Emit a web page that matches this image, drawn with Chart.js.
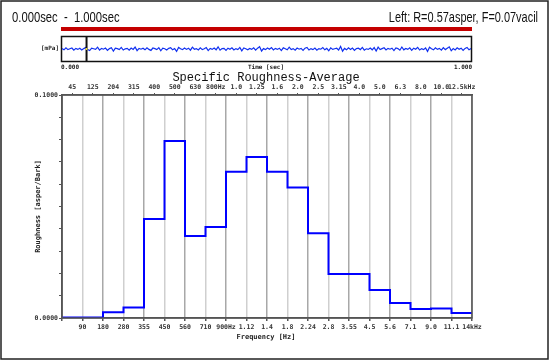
<!DOCTYPE html>
<html>
<head>
<meta charset="utf-8">
<script src="https://cdn.jsdelivr.net/npm/chart.js@4"></script>
<style>
  body { margin: 0; background: #fff; }
  #wrap { position: relative; width: 550px; height: 361px; }
  #main { position: absolute; left: 0; top: 0; }
  #wave { position: absolute; left: 62px; top: 37px; }
</style>
</head>
<body>
<div id="wrap">
  <canvas id="main" width="550" height="361"></canvas>
  <canvas id="wave" width="409" height="24"></canvas>
</div>
<script>
// Bark band centre frequencies (top axis)
const topLabels = ['45', '125', '204', '315', '400', '500', '630', '800Hz', '1.0', '1.25',
  '1.6', '2.0', '2.5', '3.15', '4.0', '5.0', '6.3', '8.0', '10.0', '12.5kHz'];
// band edges (bottom axis)
const bottomLabels = ['90', '180', '280', '355', '450', '560', '710', '900Hz', '1.12', '1.4',
  '1.8', '2.24', '2.8', '3.55', '4.5', '5.6', '7.1', '9.0', '11.1', '14kHz'];
// specific roughness per band [asper/Bark]
const roughness = [0.0002, 0.0002, 0.0026, 0.0047, 0.0444, 0.0794, 0.0368, 0.0408, 0.0656, 0.0722,
  0.0656, 0.0585, 0.0380, 0.0197, 0.0197, 0.0126, 0.0067, 0.0040, 0.0043, 0.0022];
const yTicksShown = [0, 0.1];

// time signal overview [mPa]
const waveform = [0.2, -0.4, 0.6, -0.3, 0.1, 0.5, -0.6, 0.3, -0.2, 0.4, -0.5, 0.2, 0.7, -0.3, -0.8, 0.4,
  0.1, -0.2, 0.9, -0.6, 0.3, -0.1, 0.5, -0.7, 0.2, 0.6, -1.1, 0.4, 0.2, -0.3, 0.8, -0.5,
  0.1, 0.3, -0.6, 0.5, -0.2, 1.0, -0.8, 0.3, -0.1, 0.4, -0.4, 0.6, -0.2, -0.7, 0.5, 0.2,
  -0.3, 0.7, -0.9, 0.4, 0.1, -0.5, 0.3, 0.6, -0.4, 0.2, -1.2, 0.8, 0.1, -0.3, 0.5, -0.2,
  0.4, -0.6, 0.9, -0.1, 0.2, -0.5, 0.6, -0.3, 0.1, 0.7, -0.8, 0.3, -0.2, 0.5, -0.4, 1.1,
  -0.6, 0.2, 0.3, -0.7, 0.4, -0.1, 0.6, -0.5, 0.2, -0.3, 0.8, -0.9, 0.5, 0.1, -0.4, 0.3,
  -0.2, 0.6, -0.6, 0.4, 1.2, -1.0, 0.2, -0.3, 0.5, -0.1, 0.7, -0.5, 0.3, -0.2, 0.4, -0.8,
  0.6, 0.1, -0.4, 0.9, -0.3, 0.2, -0.6, 0.5, -0.1, 0.3, -0.7, 0.4, 0.8, -0.5, 0.2, -0.3,
  0.5, -0.6, 0.2, -0.1, 0.7, -0.4, 0.3, -0.9, 0.6, -0.2, 0.1, 0.4, -0.5, 1.3, -1.1, 0.3,
  -0.4, 0.6, -0.2, 0.5, -0.7, 0.2, 0.4, -0.3, 0.8, -0.6, 0.1, -0.2, 0.5, -0.4, 0.7, -1.0,
  0.9, -0.3, 0.2, 0.6, -0.5, 0.3, -0.1, 0.4, -0.8, 0.5, 0.2, -0.6, 1.0, -0.4, 0.3, -0.2,
  0.6, -0.7, 0.4, -0.1, 0.8, -0.5, 0.2, -0.3, 0.5, -1.2, 0.9, 0.1, -0.4, 0.6, -0.2, 0.3,
  -0.6, 0.7, -0.3, 0.4, 1.1, -0.9, 0.2, -0.5, 0.6, -0.1, 0.4, -0.7, 0.3, 0.8, -0.4, 0.2];
const cursorAt = 0.06; // sec

const tickFont = { family: 'DejaVu Sans Mono', size: 6.5, weight: 'bold' };

// step outline: one point per band start plus closing point
const stepPoints = roughness.map((v, i) => ({ x: i, y: v }));
stepPoints.push({ x: roughness.length, y: roughness[roughness.length - 1] });

const decor = {
  id: 'decor',
  afterDraw(chart) {
    const ctx = chart.ctx;
    const a = chart.chartArea;
    ctx.save();
    // outer frame
    ctx.strokeStyle = '#222';
    ctx.lineWidth = 1.5;
    ctx.strokeRect(1, 1, 547, 358);

    // header
    ctx.fillStyle = '#111';
    ctx.textBaseline = 'middle';
    ctx.font = '15px "Liberation Sans"';
    ctx.save();
    ctx.translate(12, 18);
    ctx.scale(0.75, 1);
    ctx.textAlign = 'left';
    ctx.fillText('0.000sec  -  1.000sec', 0, 0);
    ctx.restore();
    ctx.save();
    ctx.translate(538, 18);
    ctx.scale(0.73, 1);
    ctx.textAlign = 'right';
    ctx.fillText('Left: R=0.57asper, F=0.07vacil', 0, 0);
    ctx.restore();

    // red bar
    ctx.fillStyle = '#c40000';
    ctx.fillRect(61, 27, 411, 4);

    // waveform box
    ctx.strokeStyle = '#111';
    ctx.lineWidth = 1.5;
    ctx.strokeRect(61.5, 36.5, 410, 25);
    ctx.fillStyle = '#222';
    ctx.font = 'bold 6px "DejaVu Sans Mono"';
    ctx.textAlign = 'right';
    ctx.fillText('[mPa]', 59, 48);
    ctx.textAlign = 'left';
    ctx.fillText('0.000', 61, 67);
    ctx.textAlign = 'right';
    ctx.fillText('1.000', 472, 67);
    ctx.textAlign = 'center';
    ctx.fillText('Time [sec]', 266, 67);

    // title
    ctx.fillStyle = '#111';
    ctx.font = '12px "Liberation Mono"';
    ctx.fillText('Specific Roughness-Average', 266, 78);

    // plot frame
    ctx.strokeStyle = '#555';
    ctx.lineWidth = 1.5;
    ctx.strokeRect(a.left, a.top, a.right - a.left, a.bottom - a.top);

    // axis titles
    ctx.fillStyle = '#222';
    ctx.font = 'bold 7px "DejaVu Sans Mono"';
    ctx.fillText('Frequency [Hz]', 266, 337);
    ctx.save();
    ctx.translate(38, (a.top + a.bottom) / 2);
    ctx.rotate(-Math.PI / 2);
    ctx.fillText('Roughness [asper/Bark]', 0, 0);
    ctx.restore();
    ctx.restore();
  }
};

new Chart(document.getElementById('main'), {
  type: 'line',
  data: {
    datasets: [{
      data: stepPoints,
      stepped: true,
      borderColor: '#0000ff',
      borderWidth: 2,
      pointRadius: 0,
      fill: false
    }]
  },
  options: {
    responsive: false,
    animation: false,
    devicePixelRatio: 1,
    layout: { padding: { left: 24, top: 83, right: 78, bottom: 31 } },
    plugins: { legend: { display: false }, tooltip: { enabled: false } },
    scales: {
      x: {
        type: 'linear',
        position: 'bottom',
        min: 0,
        max: roughness.length,
        afterFit: s => { s.height = 12; },
        ticks: {
          stepSize: 1,
          autoSkip: false,
          maxRotation: 0,
          padding: 2,
          font: tickFont,
          color: '#333',
          callback: v => (v === 0 ? '' : bottomLabels[v - 1])
        },
        grid: {
          color: c => (c.index % 2 ? '#cfcfcf' : '#a8a8a8'),
          lineWidth: 1.5,
          tickLength: 3,
          tickColor: '#555'
        },
        border: { color: '#555', width: 1.5 }
      },
      x2: {
        type: 'linear',
        position: 'top',
        min: 0,
        max: roughness.length,
        afterFit: s => { s.height = 12; },
        afterBuildTicks: s => { s.ticks = topLabels.map((_, i) => ({ value: i + 0.5 })); },
        ticks: {
          autoSkip: false,
          maxRotation: 0,
          padding: 2,
          font: tickFont,
          color: '#333',
          callback: (v, i) => topLabels[i]
        },
        grid: { drawOnChartArea: false, tickLength: 2, color: '#555' },
        border: { color: '#555', width: 1.5 }
      },
      y: {
        min: 0,
        max: 0.1,
        afterFit: s => { s.width = 38; },
        ticks: {
          stepSize: 0.01,
          autoSkip: false,
          padding: 1,
          font: tickFont,
          color: '#333',
          callback: v => (yTicksShown.some(t => Math.abs(t - v) < 1e-9) ? v.toFixed(4) : '')
        },
        grid: { drawOnChartArea: false, tickLength: 3, color: '#555' },
        border: { color: '#555', width: 1.5 }
      }
    }
  },
  plugins: [decor]
});

const cursor = {
  id: 'cursor',
  afterDatasetsDraw(chart) {
    const ctx = chart.ctx;
    const x = chart.scales.x.getPixelForValue(cursorAt);
    const y = chart.scales.y.getPixelForValue(0);
    ctx.save();
    ctx.strokeStyle = '#111';
    ctx.lineWidth = 2;
    ctx.beginPath();
    ctx.moveTo(x, 0);
    ctx.lineTo(x, chart.height);
    ctx.stroke();
    ctx.fillStyle = '#e8d840';
    ctx.fillRect(x - 1, y - 1, 2, 2);
    ctx.restore();
  }
};

new Chart(document.getElementById('wave'), {
  type: 'line',
  data: {
    datasets: [{
      data: waveform.map((v, i) => ({ x: i / (waveform.length - 1), y: v })),
      borderColor: '#1030f0',
      borderWidth: 1.2,
      pointRadius: 0,
      tension: 0
    }]
  },
  options: {
    responsive: false,
    animation: false,
    devicePixelRatio: 1,
    layout: { padding: 0 },
    plugins: { legend: { display: false }, tooltip: { enabled: false } },
    scales: {
      x: { type: 'linear', min: 0, max: 1, display: false },
      y: { min: -6, max: 6, display: false }
    }
  },
  plugins: [cursor]
});
</script>
</body>
</html>
